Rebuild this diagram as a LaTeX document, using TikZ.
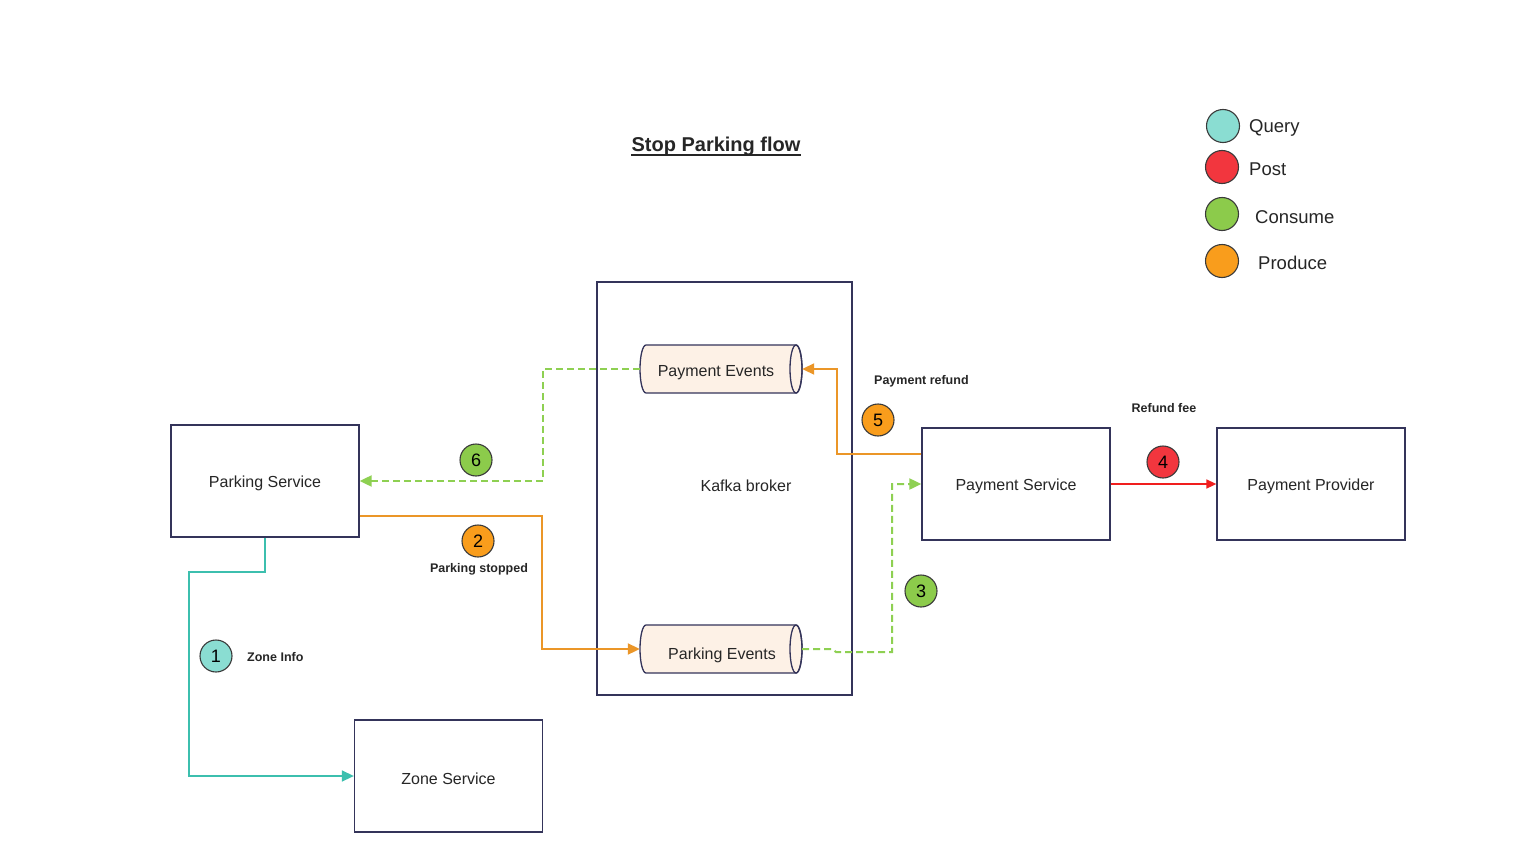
\documentclass[tikz,border=0pt]{standalone}
\usepackage{fontspec}
\setmainfont{Liberation Sans}
\usetikzlibrary{arrows.meta,calc}
\definecolor{boxline}{HTML}{34345A}
\definecolor{cylfill}{HTML}{FDF1E6}
\definecolor{cteal}{HTML}{3CBFAE}
\definecolor{bteal}{HTML}{8ADDD2}
\definecolor{corange}{HTML}{EB9628}
\definecolor{borange}{HTML}{F99D1C}
\definecolor{cgreen}{HTML}{8ED052}
\definecolor{bgreen}{HTML}{8CCB4B}
\definecolor{cred}{HTML}{F01E1E}
\definecolor{bred}{HTML}{F2363E}
\definecolor{bline}{HTML}{3A3A3A}
\newcommand{\dn}[1]{\raisebox{-2.5pt}[\height][\depth]{#1}}
\begin{document}
\begin{tikzpicture}[x=1pt,y=-1pt,
  svcbox/.style={draw=boxline,line width=1.3pt,minimum width=188pt,minimum height=112pt,inner sep=0pt,font=\fontsize{16}{19}\selectfont,text=black!85},
  badge/.style={circle,draw=bline,line width=1.1pt,minimum size=32pt,inner sep=0pt,font=\fontsize{18}{20}\selectfont},
  smalllabel/.style={inner sep=0pt,font=\bfseries\fontsize{12.5}{14}\selectfont,text=black!85},
  legendtext/.style={inner sep=0pt,anchor=west,font=\fontsize{18.5}{21}\selectfont,text=black!85},
  tip/.style={-{Triangle[length=12pt,width=11pt]}},
  querylink/.style={draw=cteal,line width=1.5pt,tip},
  producelink/.style={draw=corange,line width=2pt,tip},
  consumelink/.style={draw=cgreen,line width=2pt,dash pattern=on 7pt off 4pt,tip},
  postlink/.style={draw=cred,line width=1.5pt,-{Triangle[length=10pt,width=9pt]}},
  cyl/.style={fill=cylfill,draw=boxline,line width=1.3pt}
]
\useasboundingbox[fill=white] (0,0) rectangle (1536,864);

% title
\node[inner sep=0pt,font=\bfseries\fontsize{20}{24}\selectfont,text=black!85] (title) at (716,146) {Stop Parking flow};
\draw[line width=2pt,black!85] ($(title.base west)+(0,4)$) -- ($(title.base east)+(0,4)$);

% Kafka broker
\node[draw=boxline,line width=1.3pt,minimum width=255pt,minimum height=413pt,inner sep=0pt] (kafka) at (724.5,488.5) {};
\node[inner sep=0pt,font=\fontsize{16}{19}\selectfont,text=black!85] (kafkalabel) at (746,486) {Kafka broker};

% cylinders
\foreach \cx/\cy in {721/369, 721/649}{
  \path[cyl] (\cx+75,\cy-24) -- (\cx-75,\cy-24) arc (90:270:6pt and 24pt) -- (\cx+75,\cy+24) arc (270:450:6pt and 24pt) -- cycle;
  \draw[boxline,line width=1.3pt] (\cx+75,\cy) ellipse [x radius=6pt,y radius=24pt];
}
\node[minimum width=162pt,minimum height=48pt,inner sep=0pt] (payev) at (721,369) {};
\node[inner sep=0pt,font=\fontsize{16}{19}\selectfont,text=black!85] (payevlabel) at (716,372.5) {Payment Events};
\node[minimum width=162pt,minimum height=48pt,inner sep=0pt] (parkev) at (721,649) {};
\node[inner sep=0pt,font=\fontsize{16}{19}\selectfont,text=black!85] (parkevlabel) at (722,655) {Parking Events};

% services
\node[svcbox] (parking) at (265,481) {\dn{Parking Service}};
\node[svcbox] (zone) at (448.5,776) {\dn{Zone Service}};
\node[svcbox] (payment) at (1016,484) {\dn{Payment Service}};
\node[svcbox] (provider) at (1311,484) {\dn{Payment Provider}};

% connectors
\coordinate (p1a) at (265,572);
\coordinate (p1b) at (189,572);
\draw[querylink] (parking.south) -- (p1a) -- (p1b) |- (zone.west);

\draw[producelink] (parking.east |- 0,516) -| (542,581) |- (parkev.west);

\draw[consumelink] (parkev.east) -- (832,649) -- (836,652) -| (892,560) |- (payment.west);

\draw[postlink] (payment.east) -- (provider.west);

\draw[producelink] (payment.west |- 0,454) -| (837,400) |- (payev.east);

\draw[consumelink] (payev.west) -| (543,430) |- (parking.east);

% badges
\node[badge,fill=bteal] (b1) at (216,656) {1};
\node[badge,fill=borange] (b2) at (478,541) {2};
\node[badge,fill=bgreen] (b3) at (921,591) {3};
\node[badge,fill=bred] (b4) at (1163,462) {4};
\node[badge,fill=borange] (b5) at (878,420) {5};
\node[badge,fill=bgreen] (b6) at (476,460) {6};

% labels
\node[smalllabel,anchor=west] (l1) at (247,657) {Zone Info};
\node[smalllabel] (l2) at (479,569) {Parking stopped};
\node[smalllabel,anchor=west] (l5) at (874,381) {Payment refund};
\node[smalllabel] (l4) at (1164,408) {Refund fee};

% legend
\node[badge,fill=bteal,minimum size=33pt] (g1) at (1223,126) {};
\node[badge,fill=bred,minimum size=33pt] (g2) at (1222,167) {};
\node[badge,fill=bgreen,minimum size=33pt] (g3) at (1222,214) {};
\node[badge,fill=borange,minimum size=33pt] (g4) at (1222,261) {};
\node[legendtext] (t1) at (1249,128) {Query};
\node[legendtext] (t2) at (1249,169) {Post};
\node[legendtext] (t3) at (1255,217) {Consume};
\node[legendtext] (t4) at (1258,263) {Produce};
\end{tikzpicture}
\end{document}
